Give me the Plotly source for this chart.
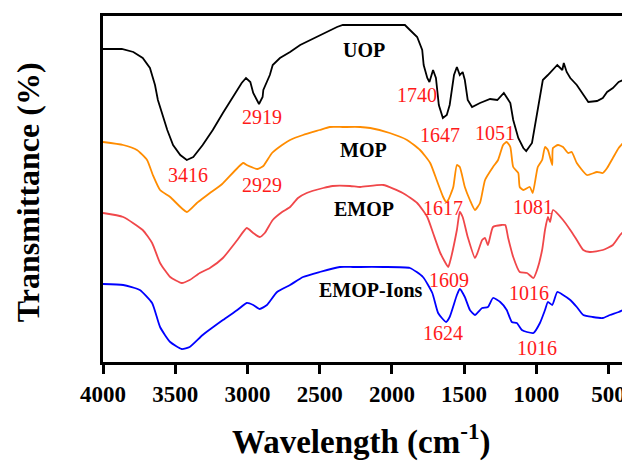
import plotly.graph_objects as go

# Wavenumber (cm-1) and offset transmittance (a.u.)
uop_x = [4000, 3870, 3790, 3725, 3675, 3640, 3620, 3590, 3555, 3515, 3465, 3420, 3375, 3310, 3240, 3170, 3100, 3040, 3010, 2980, 2960, 2920, 2895, 2890, 2845, 2825, 2775, 2705, 2635, 2565, 2475, 2380, 2340, 1910, 1875, 1825, 1790, 1780, 1755, 1740, 1715, 1695, 1675, 1647, 1620, 1600, 1570, 1550, 1530, 1510, 1495, 1475, 1445, 1390, 1320, 1270, 1225, 1205, 1180, 1160, 1125, 1090, 1070, 1030, 995, 955, 920, 855, 820, 810, 790, 765, 720, 675, 640, 580, 540, 510, 470, 430, 400]
uop_y = [313, 313, 310, 304, 294, 277, 262, 247, 232, 217, 207, 202, 205, 217, 232, 249, 265, 279, 284, 280, 269, 258, 265, 272, 287, 297, 304, 310, 317, 322, 329, 335, 337, 337, 332, 325, 312, 297, 284, 280, 292, 284, 257, 244, 247, 257, 287, 295, 287, 290, 282, 262, 255, 259, 263, 262, 269, 265, 259, 242, 224, 214, 211, 219, 247, 282, 287, 297, 292, 299, 290, 284, 277, 267, 260, 261, 264, 270, 274, 280, 282]

mop_x = [4000, 3860, 3765, 3695, 3655, 3605, 3535, 3420, 3350, 3315, 3260, 3175, 3030, 3005, 2930, 2890, 2830, 2760, 2705, 2615, 2500, 2430, 2340, 2220, 2150, 2015, 1895, 1805, 1735, 1690, 1645, 1625, 1610, 1575, 1550, 1530, 1495, 1460, 1425, 1390, 1355, 1300, 1265, 1230, 1205, 1180, 1160, 1125, 1115, 1090, 1045, 1025, 990, 960, 940, 920, 890, 885, 850, 815, 780, 755, 720, 650, 580, 540, 510, 470, 430, 400]
mop_y = [220, 217, 212, 202, 187, 172, 165, 150, 159, 163, 169, 178, 199, 197, 193, 196, 209, 217, 222, 227, 232, 235, 235, 235, 234, 229, 222, 212, 199, 182, 165, 160, 162, 175, 197, 195, 175, 162, 152, 159, 182, 195, 202, 217, 220, 215, 195, 189, 175, 172, 175, 169, 195, 202, 215, 212, 197, 214, 217, 215, 209, 210, 199, 187, 190, 189, 194, 204, 214, 219]

emop_x = [4000, 3860, 3725, 3660, 3605, 3535, 3455, 3400, 3330, 3260, 3170, 3070, 3005, 2960, 2915, 2880, 2825, 2760, 2705, 2650, 2590, 2475, 2410, 2290, 2220, 2060, 1925, 1825, 1755, 1715, 1665, 1610, 1600, 1550, 1530, 1510, 1475, 1425, 1405, 1375, 1355, 1335, 1300, 1240, 1215, 1195, 1160, 1115, 1065, 1020, 995, 960, 940, 920, 905, 885, 815, 765, 720, 675, 630, 540, 470, 420, 400]
emop_y = [149, 145, 132, 119, 99, 85, 79, 82, 89, 94, 104, 122, 134, 129, 125, 129, 142, 150, 155, 164, 169, 174, 176, 176, 175, 177, 169, 159, 145, 129, 109, 95, 99, 132, 150, 145, 125, 104, 110, 122, 124, 117, 135, 137, 137, 124, 105, 90, 89, 84, 92, 112, 132, 145, 140, 152, 142, 132, 122, 112, 110, 112, 117, 127, 130]

ions_x = [4000, 3860, 3745, 3660, 3605, 3535, 3455, 3400, 3310, 3170, 3070, 3005, 2960, 2915, 2865, 2795, 2705, 2615, 2500, 2360, 2270, 2220, 2060, 1875, 1785, 1720, 1680, 1625, 1600, 1550, 1530, 1495, 1460, 1425, 1375, 1335, 1300, 1250, 1205, 1170, 1135, 1100, 1065, 1020, 975, 940, 920, 890, 855, 815, 765, 720, 675, 610, 540, 490, 430, 400]
ions_y = [78, 77, 72, 59, 35, 20, 13, 15, 27, 42, 52, 59, 57, 53, 57, 70, 77, 85, 90, 95, 95, 95, 95, 94, 85, 69, 49, 40, 45, 67, 73, 65, 52, 47, 54, 55, 64, 60, 52, 40, 39, 32, 30, 29, 39, 52, 60, 57, 70, 67, 62, 55, 47, 45, 44, 47, 50, 52]

series_names = ["UOP", "MOP", "EMOP", "EMOP-Ions"]
series_colors = ["#000000", "#FF8C00", "#F0474A", "#0000FF"]
series_label_x = [2195, 2195, 2195, 2145]
series_label_y = [312, 212, 153, 72]

peak_labels = ["2919", "3416", "2929", "1740", "1647", "1051", "1617", "1081", "1609", "1016", "1624", "1016"]
peak_label_x = [2900, 3410, 2900, 1825, 1665, 1285, 1645, 1025, 1605, 1050, 1645, 995]
peak_label_y = [245, 187, 177, 267, 227, 229, 154, 155, 82, 69, 29, 14]

tick_vals = [4000, 3500, 3000, 2500, 2000, 1500, 1000, 500]

FONT = "Liberation Serif, Times New Roman, serif"

fig = go.Figure()
for xs, ys, name, col in zip([uop_x, mop_x, emop_x, ions_x], [uop_y, mop_y, emop_y, ions_y], series_names, series_colors):
    shape = "linear" if name == "UOP" else "spline"
    fig.add_trace(go.Scatter(x=xs, y=ys, mode="lines", name=name,
                             line=dict(color=col, width=1.8, shape=shape, smoothing=0.5), showlegend=False))

for t, x, y in zip(series_names, series_label_x, series_label_y):
    fig.add_annotation(x=x, y=y, xref="x", yref="y", text="<b>" + t + "</b>", showarrow=False,
                       font=dict(family=FONT, size=20, color="black"))

for t, x, y in zip(peak_labels, peak_label_x, peak_label_y):
    fig.add_annotation(x=x, y=y, xref="x", yref="y", text=t, showarrow=False,
                       font=dict(family=FONT, size=20, color="#FF1A1A"))

# axis titles
fig.add_annotation(x=0.496, y=-0.225, xref="paper", yref="paper", xanchor="center", yanchor="middle",
                   text="<b>Wavelength (cm<sup>-1</sup>)</b>", showarrow=False,
                   font=dict(family=FONT, size=33, color="black"))
fig.add_annotation(x=-0.144, y=0.491, xref="paper", yref="paper", xanchor="center", yanchor="middle",
                   text="<b>Transmittance (%)</b>", textangle=-90, showarrow=False,
                   font=dict(family=FONT, size=32, color="black"))

# page body adds an 8px offset, so the figure is sized to fit the window
fig.update_layout(
    width=622, height=457,
    margin=dict(l=95, r=7, t=8, b=103),
    plot_bgcolor="white", paper_bgcolor="white",
    font=dict(family=FONT, color="black"),
)
fig.update_xaxes(
    range=[4000, 400], autorange=False, automargin=False,
    tickvals=tick_vals, ticktext=[f"<b>{v}</b>" for v in tick_vals],
    tickfont=dict(family=FONT, size=23, color="black"),
    ticks="outside", ticklen=9, tickwidth=3, tickcolor="black",
    showline=True, linewidth=3, linecolor="black", mirror=True,
    showgrid=False, zeroline=False,
)
fig.update_yaxes(
    range=[0, 346], autorange=False, automargin=False,
    showticklabels=False, ticks="",
    showline=True, linewidth=3, linecolor="black", mirror=True,
    showgrid=False, zeroline=False,
)

fig.write_html("out.html")
